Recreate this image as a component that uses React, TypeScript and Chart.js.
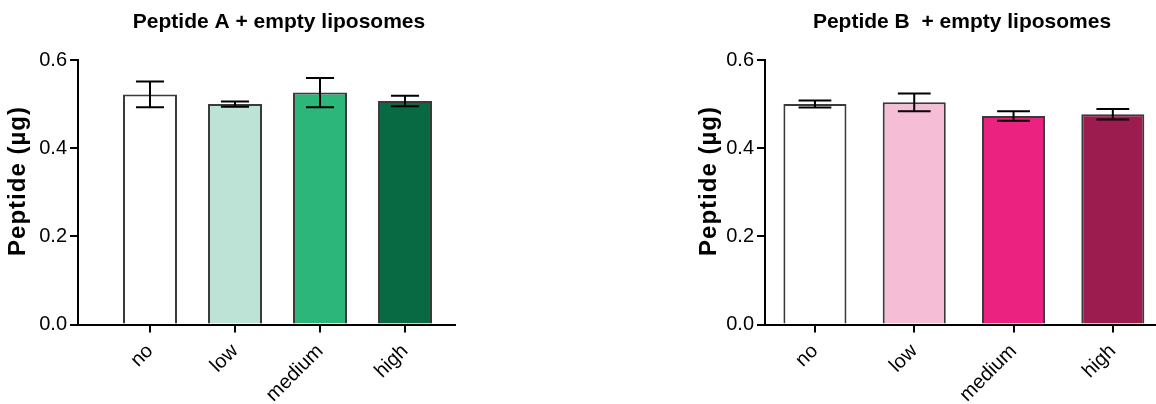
import React, { useEffect, useRef } from "react";
import { Chart, registerables } from "chart.js";
Chart.register(...registerables);

const categories = ["no", "low", "medium", "high"];
const peptideAMeans = [0.522, 0.5, 0.526, 0.507];
const peptideAErrors = [0.029, 0.006, 0.033, 0.012];
const peptideBMeans = [0.5, 0.504, 0.473, 0.477];
const peptideBErrors = [0.008, 0.02, 0.011, 0.012];
const peptideAColors = ["#ffffff", "#bce3d6", "#2cb67a", "#076a43"];
const peptideBColors = ["#ffffff", "#f6bed6", "#ec2280", "#9d1c50"];
const yMin = 0;
const yMax = 0.6;
const yStep = 0.2;
const yAxisTitle = "Peptide (µg)";

const FONT = "'Liberation Sans', Arial, Helvetica, sans-serif";

type PanelProps = {
  title: string;
  titleX: number;
  means: number[];
  errors: number[];
  colors: string[];
  left: number;
  width: number;
  yAxisWidth: number;
  padRight: number;
  xMin: number;
  xMax: number;
  yTitleX: number;
};

const errorBarPlugin = {
  id: "errorBars",
  afterDatasetsDraw(chart: any, _args: any, opts: any) {
    const errs: number[] = opts.errors || [];
    const meta = chart.getDatasetMeta(0);
    const ds = chart.data.datasets[0];
    const ys = chart.scales.y;
    const ctx = chart.ctx;
    ctx.save();
    ctx.strokeStyle = "#000";
    ctx.lineWidth = 2;
    meta.data.forEach((el: any, i: number) => {
      const v = (ds.data[i] as any).y;
      const e = errs[i];
      const top = ys.getPixelForValue(v + e);
      const bot = ys.getPixelForValue(v - e);
      const cap = el.width * 0.52;
      ctx.beginPath();
      ctx.moveTo(el.x, top);
      ctx.lineTo(el.x, bot);
      ctx.moveTo(el.x - cap / 2, top);
      ctx.lineTo(el.x + cap / 2, top);
      ctx.moveTo(el.x - cap / 2, bot);
      ctx.lineTo(el.x + cap / 2, bot);
      ctx.stroke();
    });
    ctx.restore();
  },
};

const panelTextPlugin = {
  id: "panelText",
  afterDraw(chart: any, _args: any, opts: any) {
    const ctx = chart.ctx;
    ctx.save();
    ctx.fillStyle = "#000";
    ctx.font = `bold ${opts.size}px ${FONT}`;
    ctx.textAlign = "center";
    ctx.textBaseline = "middle";
    ctx.fillText(opts.text, opts.x, opts.y);
    ctx.restore();
    // y-axis title
    ctx.save();
    ctx.fillStyle = "#000";
    ctx.font = `bold ${opts.ySize}px ${FONT}`;
    (ctx as any).letterSpacing = `${opts.ySpacing}px`;
    ctx.textAlign = "center";
    ctx.textBaseline = "middle";
    ctx.translate(opts.yX, opts.yY);
    ctx.rotate(-Math.PI / 2);
    ctx.fillText(opts.yText, 0, 0);
    ctx.restore();
  },
};

function Panel(p: PanelProps) {
  const ref = useRef<HTMLCanvasElement>(null);
  useEffect(() => {
    if (!ref.current) return;
    const chart = new Chart(ref.current, {
      type: "bar",
      data: {
        datasets: [
          {
            data: p.means.map((y, i) => ({ x: i, y })),
            backgroundColor: p.colors,
            borderColor: "#3a3a3a",
            borderWidth: 2,
            barPercentage: 0.635,
            categoryPercentage: 1,
          },
        ],
      },
      options: {
        animation: false,
        responsive: false,
        devicePixelRatio: 1,
        layout: { padding: { left: 0, right: p.padRight, top: 60, bottom: 0 } },
        plugins: {
          legend: { display: false },
          tooltip: { enabled: false },
          title: { display: false },
          errorBars: { errors: p.errors },
          panelText: {
            text: p.title,
            x: p.titleX,
            y: 22,
            size: 21,
            yText: yAxisTitle,
            yX: p.yTitleX,
            yY: 181,
            ySize: 24,
            ySpacing: 1,
          },
        } as any,
        scales: {
          x: {
            type: "linear",
            offset: false,
            min: p.xMin,
            max: p.xMax,
            afterBuildTicks: (s: any) => {
              s.ticks = categories.map((_, i) => ({ value: i }));
            },
            afterFit: (s: any) => {
              s.height = 404 - 324.5;
            },
            grid: {
              display: true,
              offset: false,
              drawOnChartArea: false,
              drawTicks: true,
              tickLength: 8,
              color: "#000",
              lineWidth: 2,
            },
            border: { display: true, color: "#000", width: 2 },
            ticks: {
              autoSkip: false,
              minRotation: 45,
              maxRotation: 45,
              padding: 7,
              color: "#000",
              font: { family: FONT, size: 20 },
              callback: (v: any) => categories[Math.round(Number(v))] ?? "",
            },
          },
          y: {
            min: yMin,
            max: yMax,
            afterFit: (s: any) => {
              s.width = p.yAxisWidth;
            },
            grid: {
              display: true,
              drawOnChartArea: false,
              drawTicks: true,
              tickLength: 8,
              color: "#000",
              lineWidth: 2,
            },
            border: { display: true, color: "#000", width: 2 },
            ticks: {
              stepSize: yStep,
              padding: 3,
              color: "#000",
              font: { family: FONT, size: 20 },
              callback: (v: any) => Number(v).toFixed(1),
            },
            title: { display: false },
          },
        } as any,
      },
      plugins: [errorBarPlugin, panelTextPlugin],
    } as any);
    return () => chart.destroy();
  }, []);
  return (
    <canvas
      ref={ref}
      width={p.width}
      height={404}
      style={{ position: "absolute", left: p.left, top: 0, width: p.width, height: 404 }}
    />
  );
}

export default function App() {
  return (
    <div
      style={{
        position: "fixed",
        left: 0,
        top: 0,
        width: 1156,
        height: 404,
        overflow: "hidden",
        background: "#fff",
      }}
    >
      <Panel
        title="Peptide A + empty liposomes"
        titleX={279}
        means={peptideAMeans}
        errors={peptideAErrors}
        colors={peptideAColors}
        left={0}
        width={460}
        yAxisWidth={78}
        padRight={5}
        xMin={-0.847}
        xMax={3.588}
        yTitleX={18}
      />
      <Panel
        title="Peptide B  + empty liposomes"
        titleX={272}
        means={peptideBMeans}
        errors={peptideBErrors}
        colors={peptideBColors}
        left={690}
        width={544}
        yAxisWidth={75}
        padRight={34}
        xMin={-0.503}
        xMax={3.878}
        yTitleX={19}
      />
    </div>
  );
}
